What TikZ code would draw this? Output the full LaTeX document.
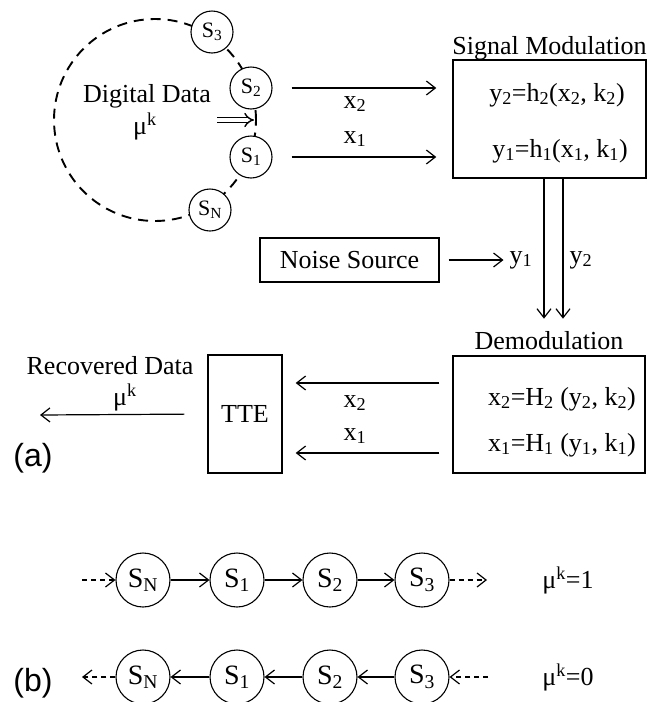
\documentclass[tikz,border=0pt]{standalone}
\usepackage{fontspec}
\setmainfont{Liberation Serif}
\newfontfamily\panelfont{Liberation Sans}
\usetikzlibrary{arrows.meta, positioning}

\begin{document}
\begin{tikzpicture}[x=1pt, y=-1pt,
      state/.style={draw, circle, fill=white, line width=1.1pt, minimum size=42pt,
                    inner sep=0pt, font=\fontsize{22}{24}\selectfont},
      bigstate/.style={draw, circle, line width=1.1pt, minimum size=54pt,
                       inner sep=0pt, font=\fontsize{28}{30}\selectfont},
      block/.style={draw, line width=1.4pt, inner sep=0pt},
      lbl/.style={inner sep=0pt, font=\fontsize{26}{28}\selectfont},
      panel/.style={inner sep=0pt, font=\panelfont\fontsize{32}{34}\selectfont},
      sig/.style={line width=1.2pt, -{Straight Barb[length=9pt,width=14pt]}},
      dsig/.style={sig, dash pattern=on 5pt off 4pt}]
    \useasboundingbox (0,0) rectangle (657,702);

    % (a) ring of states
    \draw[line width=1.9pt, dash pattern=on 10pt off 7pt] (155,120) circle[radius=101pt];
    \node[state] (s3) at (212,32) {S\textsubscript{3}};
    \node[state] (s2) at (251,88) {S\textsubscript{2}};
    \node[state] (s1) at (251,157) {S\textsubscript{1}};
    \node[state] (sn) at (210,210) {S\textsubscript{N}};
    \node[lbl] (data) at (147,96) {Digital Data};
    \node[lbl] (datamu) at (145,126) {μ\textsuperscript{k}};
    \coordinate (datain) at (217,120);
    \coordinate (ringin) at (254,120);
    \draw[line width=1.4pt, double, double distance=3.5pt, -{Implies[length=8pt]}] (datain) -- (ringin);

    % modulation
    \node[block, minimum width=193pt, minimum height=118pt] (mod) at (549.5,119) {};
    \node[lbl, anchor=base] (modtitle) at ([yshift=5pt]mod.north) {Signal Modulation};
    \node[lbl] (mody2) at (557,95) {y\textsubscript{2}=h\textsubscript{2}(x\textsubscript{2}, k\textsubscript{2})};
    \node[lbl] (mody1) at (560,151) {y\textsubscript{1}=h\textsubscript{1}(x\textsubscript{1}, k\textsubscript{1})};
    \draw[sig, shorten <=19pt, shorten >=16pt] (s2.east) -- (s2.east -| mod.west);
    \draw[sig, shorten <=19pt, shorten >=16pt] (s1.east) -- (s1.east -| mod.west);
    \node[lbl] (xa2) at (355,104) {x\textsubscript{2}};
    \node[lbl] (xa1) at (355,139) {x\textsubscript{1}};

    % channel
    \node[block, lbl, minimum width=179pt, minimum height=44pt] (noise) at (349.5,260) {Noise Source};
    \node[lbl] (ch1) at (521,260) {y\textsubscript{1}};
    \node[lbl] (ch2) at (581,260) {y\textsubscript{2}};
    \draw[sig, shorten <=9pt, shorten >=6pt] (noise.east) -- (ch1.west);
    \draw[sig] ([xshift=-5.5pt]mod.south) -- ++(0,140);
    \draw[sig] ([xshift=13.5pt]mod.south) -- ++(0,140);

    % demodulation
    \node[block, minimum width=192pt, minimum height=117pt] (demod) at (549,414.5) {};
    \node[lbl, anchor=base] (demodtitle) at ([yshift=6pt]demod.north) {Demodulation};
    \node[lbl] (demx2) at (562,399) {x\textsubscript{2}=H\textsubscript{2} (y\textsubscript{2}, k\textsubscript{2})};
    \node[lbl] (demx1) at (562,445) {x\textsubscript{1}=H\textsubscript{1} (y\textsubscript{1}, k\textsubscript{1})};
    \node[block, lbl, minimum width=74pt, minimum height=118pt] (tte) at (245,414) {TTE};
    \draw[sig, shorten <=13pt, shorten >=13pt] ([yshift=31.5pt]demod.west) -- ([yshift=31.5pt]demod.west -| tte.east);
    \draw[sig, shorten <=13pt, shorten >=13pt] ([yshift=-38.5pt]demod.west) -- ([yshift=-38.5pt]demod.west -| tte.east);
    \node[lbl] (xb2) at (355,403) {x\textsubscript{2}};
    \node[lbl] (xb1) at (355,436) {x\textsubscript{1}};
    \node[lbl] (rec) at (110,366) {Recovered Data};
    \node[lbl] (recmu) at (125,397) {μ\textsuperscript{k}};
    \coordinate (recout) at (40,415);
    \draw[sig, shorten <=23pt] (tte.west) -- (recout);
    \node[panel] (pa) at (33,458) {(a)};

    % (b) state shifts
    \foreach \nm/\xx in {N/143, 1/237, 2/330, 3/422} {
      \node[bigstate] (u\nm) at (\xx,580) {S\textsubscript{\nm}};
      \node[bigstate] (d\nm) at (\xx,677) {S\textsubscript{\nm}};
    }
    \foreach \a/\b in {N/1, 1/2, 2/3} {
      \draw[sig] (u\a) -- (u\b);
      \draw[sig] (d\b) -- (d\a);
    }
    \coordinate (uin) at (82,580);
    \coordinate (uout) at (487,580);
    \coordinate (dout) at (82,677);
    \coordinate (din) at (488,677);
    \draw[dsig] (uin) -- (uN);
    \draw[dsig] (u3) -- (uout);
    \draw[dsig] (dN) -- (dout);
    \draw[dsig] (din) -- (d3);
    \node[lbl] (mu1) at (568,580) {μ\textsuperscript{k}=1};
    \node[lbl] (mu0) at (568,677) {μ\textsuperscript{k}=0};
    \node[panel] (pb) at (33,683) {(b)};
  \end{tikzpicture}
\end{document}
